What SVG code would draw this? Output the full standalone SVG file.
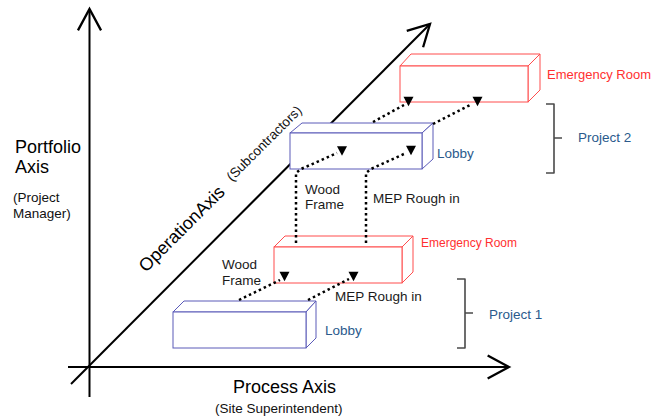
<svg xmlns="http://www.w3.org/2000/svg" xmlns:xlink="http://www.w3.org/1999/xlink" width="652" height="419" viewBox="0 0 652 419">
  <style>
    text { font-family: "Liberation Sans", Arial, Helvetica, sans-serif; }
    .axis { fill: none; stroke: #000; stroke-width: 2; marker-end: url(#openArrow); }
    .box-blue { fill: #fff; stroke: #5a5ab8; stroke-width: 1; }
    .box-red { fill: #fff; stroke: #ff4d4d; stroke-width: 1; }
    .flow { fill: none; stroke: #000; stroke-width: 2.5; stroke-dasharray: 2.5 3; }
    .bracket { fill: none; stroke: #4a4a4a; stroke-width: 1.6; stroke-linejoin: round; }
    .axis-title { font-size: 18px; fill: #000; }
    .axis-sub { font-size: 13.5px; fill: #111; }
    .task { font-size: 13.5px; fill: #1a1a1a; }
    .room-blue { font-size: 13.5px; fill: #2a5a8c; }
    .room-red { fill: #ff3030; }
    .project { font-size: 13.5px; fill: #2a5a8c; }
  </style>
  <defs>
    <marker id="openArrow" markerUnits="userSpaceOnUse" markerWidth="30" markerHeight="30" viewBox="-22 -13 26 26" refX="0" refY="0" orient="auto" overflow="visible">
      <path d="M-18.5,-10 L0,0 L-18.5,10" fill="none" stroke="#000" stroke-width="2" stroke-linejoin="miter"/>
    </marker>
    <path id="tri" d="M-5,-4.8 L5,-4.8 L0,4.8 Z" fill="#000"/>
  </defs>

  <!-- axes -->
  <g id="axes">
    <path class="axis" d="M89.5,397 L89.5,9"/>
    <path class="axis" d="M68,367 L509,367"/>
    <path class="axis" d="M71,384 L430,24"/>
  </g>

  <!-- axis titles -->
  <g id="axis-labels">
    <text class="axis-title" x="15" y="153">Portfolio</text>
    <text class="axis-title" x="15" y="173">Axis</text>
    <text class="axis-sub" x="13" y="202">(Project</text>
    <text class="axis-sub" x="13" y="218">Manager)</text>
    <text class="axis-title" x="233" y="393">Process Axis</text>
    <text class="axis-sub" x="215" y="413">(Site Superintendent)</text>
    <text class="axis-title" transform="translate(146,273) rotate(-45)">OperationAxis</text>
    <text class="axis-sub" transform="translate(232,182) rotate(-45)">(Subcontractors)</text>
  </g>

  <!-- project 1: lobby -->
  <g id="p1-lobby">
    <path class="box-blue" d="M173,312 L184,301 L316,301 L306,312 Z"/>
    <path class="box-blue" d="M306,312 L316,301 L316,338 L306,348 Z"/>
    <rect class="box-blue" x="173" y="312" width="133" height="36"/>
    <text class="room-blue" x="325" y="335">Lobby</text>
  </g>

  <!-- project 1: emergency room -->
  <g id="p1-er">
    <path class="box-red" d="M274,247 L285,236 L413,236 L402,247 Z"/>
    <path class="box-red" d="M402,247 L413,236 L413,272 L402,283 Z"/>
    <rect class="box-red" x="274" y="247" width="128" height="36"/>
    <text class="room-red" x="421" y="247" font-size="12">Emergency Room</text>
  </g>

  <!-- project 2: lobby -->
  <g id="p2-lobby">
    <path class="box-blue" d="M290,133 L302,123 L433,123 L422,133 Z"/>
    <path class="box-blue" d="M422,133 L433,123 L433,159 L422,169 Z"/>
    <rect class="box-blue" x="290" y="133" width="132" height="36"/>
    <text class="room-blue" x="437" y="158">Lobby</text>
  </g>

  <!-- project 2: emergency room -->
  <g id="p2-er">
    <path class="box-red" d="M400,66 L411,54 L540,54 L528,66 Z"/>
    <path class="box-red" d="M528,66 L540,54 L540,90 L528,102 Z"/>
    <rect class="box-red" x="400" y="66" width="128" height="36"/>
    <text class="room-red" x="547" y="79" font-size="13">Emergency Room</text>
  </g>

  <!-- project brackets -->
  <g id="project-1">
    <path class="bracket" d="M457,279 L465,279 L465,348 L457,348 M465,313 L473,313"/>
    <text class="project" x="489" y="319">Project 1</text>
  </g>
  <g id="project-2">
    <path class="bracket" d="M546,104 L554,104 L554,173 L546,173 M554,138 L562,138"/>
    <text class="project" x="578" y="142">Project 2</text>
  </g>

  <!-- task flows between rooms -->
  <g id="connectors">
    <path class="flow" d="M239,300 L280,280"/>
    <use xlink:href="#tri" x="284.5" y="276.5"/>
    <path class="flow" d="M308,300 L349,279"/>
    <use xlink:href="#tri" x="353.5" y="276.5"/>

    <path class="flow" d="M296,243 L296,173 L301,169 L337,153"/>
    <use xlink:href="#tri" x="342" y="151"/>
    <path class="flow" d="M366,243 L366,173 L371,169 L406,153"/>
    <use xlink:href="#tri" x="411" y="150.5"/>

    <path class="flow" d="M373,122 L404,105"/>
    <use xlink:href="#tri" x="408.5" y="101.5"/>
    <path class="flow" d="M433,124 L472,104"/>
    <use xlink:href="#tri" x="477.5" y="101.5"/>
  </g>

  <!-- task labels -->
  <g id="task-labels">
    <text class="task" x="222" y="269">Wood</text>
    <text class="task" x="222" y="285">Frame</text>
    <text class="task" x="335" y="301">MEP Rough in</text>
    <text class="task" x="305" y="194">Wood</text>
    <text class="task" x="305" y="209">Frame</text>
    <text class="task" x="373" y="203">MEP Rough in</text>
  </g>
</svg>
